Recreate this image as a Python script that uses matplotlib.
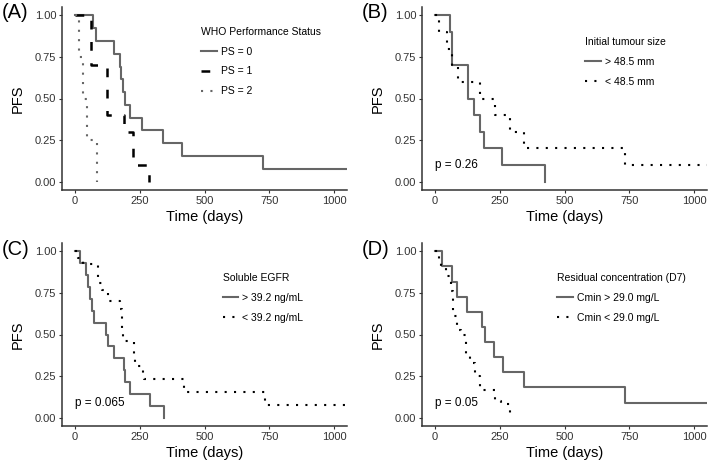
import matplotlib
matplotlib.use("Agg")
import matplotlib.pyplot as plt

plt.rcParams['font.family'] = ['Liberation Sans', 'DejaVu Sans']

# (A) WHO performance status
ps0_t = [0, 71, 83, 150, 172, 178, 184, 192, 211, 260, 340, 414, 726, 1050]
ps0_s = [1.0, 0.923, 0.846, 0.769, 0.692, 0.615, 0.538, 0.462, 0.385, 0.308, 0.231, 0.154, 0.077, 0.077]
ps1_t = [0, 62, 125, 189, 223, 287]
ps1_s = [1.0, 0.7, 0.4, 0.3, 0.1, 0.0]
ps2_t = [0, 15, 30, 46, 87]
ps2_s = [1.0, 0.75, 0.5, 0.25, 0.0]

# (B) initial tumour size
big_t = [0, 58, 64, 128, 151, 175, 191, 260, 423]
big_s = [1.0, 0.9, 0.7, 0.5, 0.4, 0.3, 0.2, 0.1, 0.0]
small_t = [0, 17, 45, 64, 88, 173, 231, 288, 342, 732, 1050]
small_s = [1.0, 0.9, 0.8, 0.7, 0.6, 0.5, 0.4, 0.3, 0.2, 0.1, 0.1]

# (C) soluble EGFR
egfr_hi_t = [0, 18, 41, 50, 59, 66, 72, 120, 126, 152, 188, 194, 213, 289, 344]
egfr_hi_s = [1.0, 0.929, 0.857, 0.786, 0.714, 0.643, 0.571, 0.5, 0.429, 0.357, 0.286, 0.214, 0.143, 0.071, 0.0]
egfr_lo_t = [0, 12, 30, 88, 105, 128, 174, 180, 186, 226, 232, 264, 268, 420, 733, 1050]
egfr_lo_s = [1.0, 0.96, 0.923, 0.808, 0.769, 0.70, 0.654, 0.538, 0.462, 0.385, 0.308, 0.269, 0.231, 0.154, 0.077, 0.077]

# (D) residual concentration
cmin_hi_t = [0, 29, 64, 87, 125, 180, 194, 228, 262, 344, 733, 1050]
cmin_hi_s = [1.0, 0.909, 0.818, 0.727, 0.636, 0.545, 0.455, 0.364, 0.273, 0.182, 0.091, 0.091]
cmin_lo_t = [0, 15, 25, 42, 60, 68, 86, 100, 120, 135, 154, 173, 231, 255, 288]
cmin_lo_s = [1.0, 0.95, 0.90, 0.85, 0.76, 0.61, 0.53, 0.50, 0.37, 0.33, 0.25, 0.167, 0.10, 0.083, 0.0]

xticks = [0, 250, 500, 750, 1000]
yticks = [0.0, 0.25, 0.5, 0.75, 1.0]
ytick_labels = ["0.00", "0.25", "0.50", "0.75", "1.00"]

GREY = "#666666"
SOLID = dict(color=GREY, lw=1.5, linestyle="-")
DASHED = dict(color="black", lw=1.8, linestyle=(0, (3.5, 5.0)))
DOTTED_GREY = dict(color=GREY, lw=1.5, linestyle=(0, (1, 3.5)))
DOTTED = dict(color="black", lw=1.5, linestyle=(0, (1, 3.5)))

W, H = 709, 468
fig = plt.figure(figsize=(W / 100, H / 100), dpi=100)


def make_axes(left, bottom_px):
    ax = fig.add_axes([left / W, (H - bottom_px) / H, 285 / W, 183 / H])
    ax.set_xlim(-50, 1050)
    ax.set_ylim(-0.05, 1.05)
    ax.set_xticks(xticks)
    ax.set_yticks(yticks)
    ax.set_yticklabels(ytick_labels)
    for side in ["top", "right"]:
        ax.spines[side].set_visible(False)
    for side in ["left", "bottom"]:
        ax.spines[side].set_color("#333333")
        ax.spines[side].set_linewidth(1.1)
    ax.tick_params(length=2.5, width=0.8, color="#333333", labelsize=8,
                   labelcolor="#333333", pad=1.5)
    ax.set_xlabel("Time (days)", fontsize=10.5, labelpad=3)
    ax.set_ylabel("PFS", fontsize=10.5, labelpad=7)
    return ax


def add_legend(ax, title, x, y):
    leg = ax.legend(title=title, loc="upper left", bbox_to_anchor=(x, y),
                    frameon=False, fontsize=7.5, title_fontsize=7.5,
                    handlelength=1.5, handletextpad=0.4, borderpad=0,
                    labelspacing=0.95, alignment="left")
    leg._legend_box.sep = 7
    return leg


# (A)
ax = make_axes(62, 190)
ax.step(ps0_t, ps0_s, where="post", label="PS = 0", **SOLID)
ax.step(ps1_t, ps1_s, where="post", label="PS = 1", **DASHED)
ax.step(ps2_t, ps2_s, where="post", label="PS = 2", **DOTTED_GREY)
add_legend(ax, "WHO Performance Status", 0.47, 0.92)

# (B)
ax = make_axes(422, 190)
ax.step(big_t, big_s, where="post", label="> 48.5 mm", **SOLID)
ax.step(small_t, small_s, where="post", label="< 48.5 mm", **DOTTED)
add_legend(ax, "Initial tumour size", 0.555, 0.865)
ax.text(0, 0.1, "p = 0.26", fontsize=8.5, ha="left", va="center")

# (C)
ax = make_axes(62, 426)
ax.step(egfr_hi_t, egfr_hi_s, where="post", label="> 39.2 ng/mL", **SOLID)
ax.step(egfr_lo_t, egfr_lo_s, where="post", label="< 39.2 ng/mL", **DOTTED)
add_legend(ax, "Soluble EGFR", 0.545, 0.865)
ax.text(0, 0.09, "p = 0.065", fontsize=8.5, ha="left", va="center")

# (D)
ax = make_axes(422, 426)
ax.step(cmin_hi_t, cmin_hi_s, where="post", label="Cmin > 29.0 mg/L", **SOLID)
ax.step(cmin_lo_t, cmin_lo_s, where="post", label="Cmin < 29.0 mg/L", **DOTTED)
add_legend(ax, "Residual concentration (D7)", 0.455, 0.865)
ax.text(0, 0.09, "p = 0.05", fontsize=8.5, ha="left", va="center")

# panel letters
for lab, px, py in [("(A)", 2, 3), ("(B)", 362, 3), ("(C)", 2, 240), ("(D)", 362, 240)]:
    fig.text(px / W, 1 - py / H, lab, fontsize=14.5, ha="left", va="top")

fig.savefig("out.png", dpi=100)
